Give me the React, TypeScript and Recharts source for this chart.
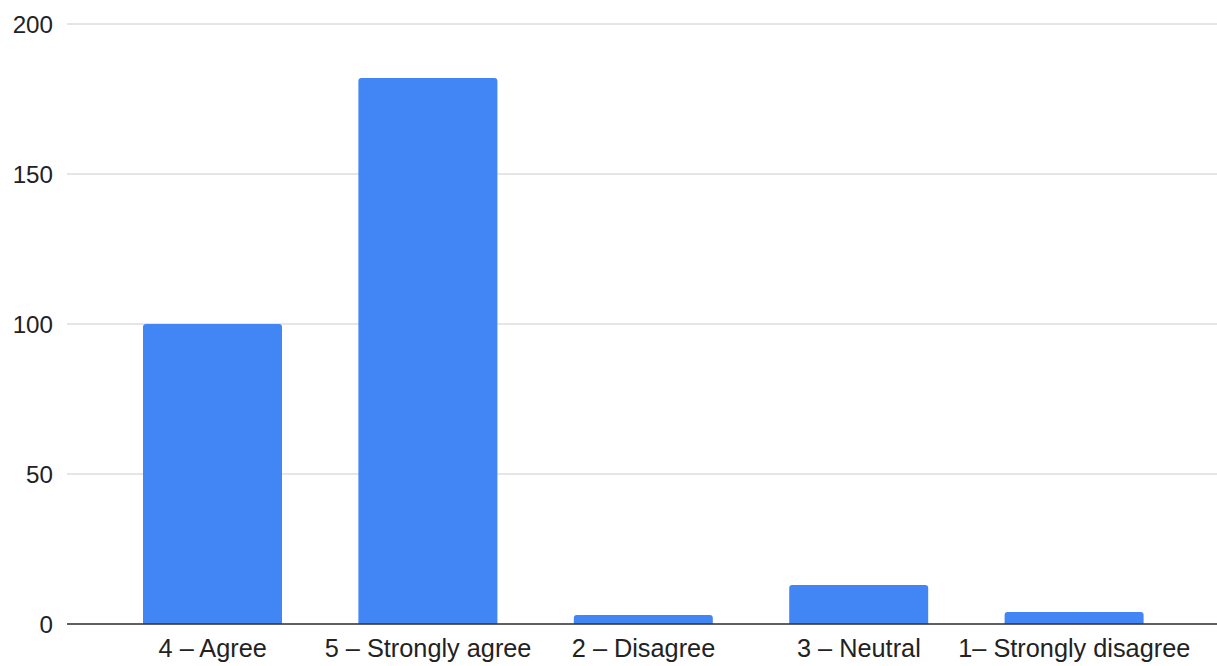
import React from "react";
import { BarChart, Bar, XAxis, YAxis, CartesianGrid } from "recharts";

const categories = ["4 – Agree", "5 – Strongly agree", "2 – Disagree", "3 – Neutral", "1– Strongly disagree"];
const counts = [100, 182, 3, 13, 4];
const yTicks = [0, 50, 100, 150, 200];

const data = categories.map((c, i) => ({ name: c, value: counts[i] }));

const FONT = "Arial, 'Liberation Sans', sans-serif";

export default function App() {
  return (
    <div style={{ position: "absolute", left: 0, top: 0, width: 1217, height: 666, background: "#fff" }}>
      <BarChart width={1217} height={666} data={data} margin={{ top: 24, right: 0, left: 0, bottom: 0 }}>
        <CartesianGrid vertical={false} stroke="#cccccc" strokeWidth={1} />
        <XAxis
          dataKey="name"
          height={42}
          padding={{ left: 38, right: 35 }}
          tickSize={0}
          tickMargin={15}
          axisLine={{ stroke: "#333333", strokeWidth: 1.5 }}
          tickLine={false}
          tick={{ fill: "#222222", fontSize: 25.3, fontFamily: FONT }}
          interval={0}
        />
        <YAxis
          width={67}
          domain={[0, 200]}
          ticks={yTicks}
          tickSize={0}
          tickMargin={14}
          axisLine={false}
          tickLine={false}
          tick={{ fill: "#222222", fontSize: 24.2, fontFamily: FONT }}
        />
        <Bar dataKey="value" fill="#4285f4" barSize={139} radius={[3, 3, 0, 0]} isAnimationActive={false} />
      </BarChart>
    </div>
  );
}
